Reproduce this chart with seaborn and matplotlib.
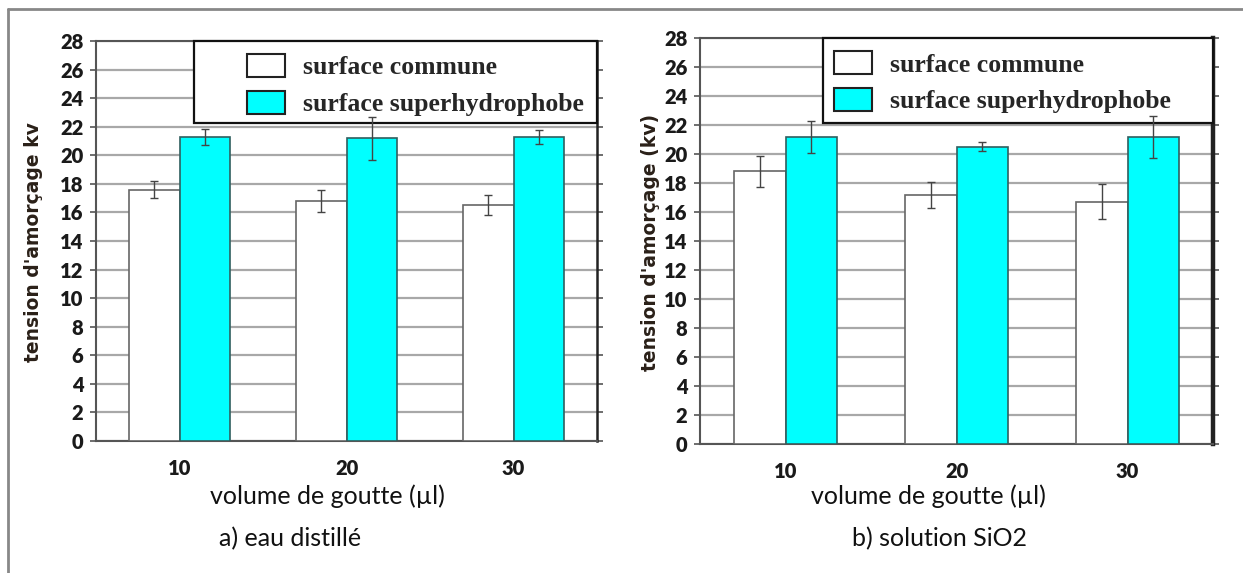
import numpy as np
import pandas as pd
import matplotlib
matplotlib.use("Agg")
import matplotlib.pyplot as plt
import seaborn as sns
from matplotlib.patches import Rectangle, Patch
from matplotlib.lines import Line2D

# ---- données ----
volumes = ["10", "20", "30"]
series = ["surface commune", "surface superhydrophobe"]

eau_commune = [17.6, 16.8, 16.5]
eau_commune_err = [0.6, 0.8, 0.7]
eau_superhydro = [21.3, 21.2, 21.3]
eau_superhydro_err = [0.55, 1.5, 0.5]

sio2_commune = [18.8, 17.2, 16.7]
sio2_commune_err = [1.05, 0.9, 1.2]
sio2_superhydro = [21.2, 20.5, 21.2]
sio2_superhydro_err = [1.1, 0.3, 1.45]

couleurs = {"surface commune": "#ffffff", "surface superhydrophobe": "#00ffff"}

sns.set_style("white")
plt.rcParams["font.family"] = ["DejaVu Sans"]

fig = plt.figure(figsize=(12.43, 5.73), dpi=100)
W, H = 1243, 573


def panneau(rect, commune, commune_err, superh, superh_err, right_lw,
            cadre_x, cadre_bas, leg_x):
    ax = fig.add_axes(rect)
    df = pd.DataFrame({
        "volume": volumes * 2,
        "serie": [series[0]] * 3 + [series[1]] * 3,
        "tension": commune + superh,
    })
    sns.barplot(data=df, x="volume", y="tension", hue="serie", order=volumes,
                hue_order=series, palette=couleurs, saturation=1, width=0.6,
                gap=0, errorbar=None, ax=ax, legend=False, zorder=3)
    erreurs = commune_err + superh_err
    bars = list(ax.patches)
    for i, p in enumerate(bars):
        p.set_edgecolor("#666666" if i < 3 else "#2f5f5f")
        p.set_linewidth(1.2)
        xc = p.get_x() + p.get_width() / 2
        ax.errorbar(xc, p.get_height(), yerr=erreurs[i], color="#444444",
                    lw=1, capsize=3, capthick=1, zorder=7)

    ax.set_ylim(0, 28)
    ax.set_xlim(-0.5, 2.5)
    ax.set_yticks(np.arange(0, 29, 2))
    ax.yaxis.grid(True, color="#a8a8a8", lw=1.6, zorder=0)
    ax.set_axisbelow(True)
    for s in ax.spines.values():
        s.set_color("#555555")
        s.set_linewidth(1.5)
    ax.spines["right"].set_color("#222222")
    ax.spines["right"].set_linewidth(right_lw)
    ax.tick_params(axis="y", left=True, right=True, direction="out", length=4,
                   width=1.2, color="#555555", pad=5)
    ax.tick_params(axis="x", length=0, pad=13)
    for lab in ax.get_yticklabels() + ax.get_xticklabels():
        lab.set_fontfamily("Lato")
        lab.set_fontweight("heavy")
        lab.set_fontsize(14.5)
        lab.set_color("#1a1a1a")
    ax.set_xlabel("")
    ax.set_ylabel("")

    # légende avec cadre
    ax.add_patch(Rectangle((cadre_x, cadre_bas), 1 - cadre_x, 1 - cadre_bas,
                           transform=ax.transAxes, facecolor="white",
                           edgecolor="#111111", lw=1.6, zorder=5, clip_on=False))
    poignees = [Patch(facecolor=couleurs[s], edgecolor="#222222", lw=1.5) for s in series]
    leg = ax.legend(poignees, series, loc="upper left",
                    bbox_to_anchor=(leg_x, 0.98), frameon=False,
                    prop={"family": "Liberation Serif", "weight": "bold", "size": 18.5},
                    handlelength=1.45, handleheight=1.0, handletextpad=0.7,
                    labelspacing=0.45, borderpad=0.2, borderaxespad=0)
    leg.set_zorder(6)
    return ax


axL = panneau([96 / W, 1 - 441 / H, 501 / W, 400 / H],
              eau_commune, eau_commune_err, eau_superhydro, eau_superhydro_err, 1.8,
              0.196, 0.795, 0.292)
axR = panneau([700 / W, 1 - 444 / H, 513 / W, 406 / H],
              sio2_commune, sio2_commune_err, sio2_superhydro, sio2_superhydro_err, 3.2,
              0.24, 0.79, 0.252)

# titres d'axes et sous-titres
fig.text(34 / W, 1 - 242 / H, "tension d'amorçage kv", rotation=90,
         ha="center", va="center", fontsize=13.5, fontweight="bold", color="#2a2018")
fig.text(651 / W, 1 - 242 / H, "tension d'amorçage (kv)", rotation=90,
         ha="center", va="center", fontsize=13.5, fontweight="bold", color="#2a2018")
fig.text(327 / W, 1 - 496 / H, "volume de goutte (µl)", ha="center", va="center",
         fontsize=18, family="Lato", color="#111111")
fig.text(928 / W, 1 - 496 / H, "volume de goutte (µl)", ha="center", va="center",
         fontsize=18, family="Lato", color="#111111")
fig.text(290 / W, 1 - 539 / H, "a) eau distillé", ha="center", va="center",
         fontsize=18, family="Lato", color="#111111")
fig.text(940 / W, 1 - 539 / H, "b) solution SiO2", ha="center", va="center",
         fontsize=18, family="Lato", color="#111111")

# cadre de la page
fig.add_artist(Line2D([8 / W, 1], [1 - 9 / H, 1 - 9 / H], color="#888888", lw=2))
fig.add_artist(Line2D([8 / W, 8 / W], [0, 1 - 9 / H], color="#888888", lw=2))

fig.savefig("out.png", dpi=100, facecolor="white")
